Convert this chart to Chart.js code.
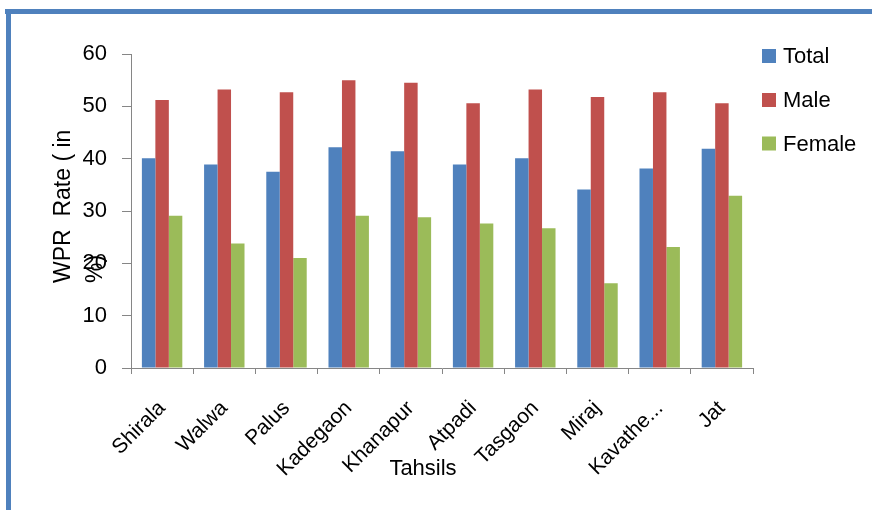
<!DOCTYPE html>
<html>
<head>
<meta charset="utf-8">
<script src="https://cdn.jsdelivr.net/npm/chart.js@4/dist/chart.umd.min.js"></script>
<style>
  html, body { margin: 0; padding: 0; background: #ffffff; }
  #wrap { position: relative; width: 872px; height: 510px; }
  canvas { display: block; }
</style>
</head>
<body>
<div id="wrap"><canvas id="wpr" width="872" height="510"></canvas></div>
<script>
// Work participation rate by tahsil (per cent)
const tahsils = ['Shirala', 'Walwa', 'Palus', 'Kadegaon', 'Khanapur', 'Atpadi', 'Tasgaon', 'Miraj', 'Kavathe...', 'Jat'];
const total  = [40.1, 38.9, 37.5, 42.2, 41.4, 38.9, 40.1, 34.1, 38.1, 41.9];
const male   = [51.2, 53.2, 52.7, 55.0, 54.5, 50.6, 53.2, 51.8, 52.7, 50.6];
const female = [29.1, 23.8, 21.0, 29.1, 28.8, 27.6, 26.7, 16.2, 23.1, 32.9];
const seriesNames = ['Total', 'Male', 'Female'];
const yTitleLines = ['WPR  Rate ( in', '%)'];
const xTitle = 'Tahsils';

const COLORS = ['#4f81bd', '#c0504d', '#9bbb59'];
const AXIS = '#868686';
const FONT = "'Liberation Sans', Arial, sans-serif";

// Frame, axis titles and the legend column are painted around the plot.
const decorations = {
  id: 'decorations',
  beforeDraw(chart) {
    const ctx = chart.ctx;
    ctx.save();
    ctx.fillStyle = '#4f81bd';
    ctx.fillRect(5, 9, 867, 5);
    ctx.fillRect(6, 9, 5, 501);
    ctx.restore();
  },
  afterDraw(chart) {
    const ctx = chart.ctx;
    ctx.save();
    ctx.fillStyle = '#000000';

    // y-axis title, two left-aligned lines reading bottom to top
    ctx.font = '23px ' + FONT;
    ctx.textBaseline = 'middle';
    ctx.textAlign = 'left';
    const yStart = 283;
    [64, 96].forEach((x, i) => {
      ctx.save();
      ctx.translate(x, yStart);
      ctx.rotate(-Math.PI / 2);
      ctx.fillText(yTitleLines[i], 0, 0);
      ctx.restore();
    });

    // x-axis title
    ctx.font = '22px ' + FONT;
    ctx.textAlign = 'center';
    ctx.fillText(xTitle, 423, 469);

    // legend
    const boxX = 762, textX = 783, rows = [56, 100, 143.5];
    ctx.font = '22px ' + FONT;
    ctx.textAlign = 'left';
    chart.data.datasets.forEach((ds, i) => {
      ctx.fillStyle = ds.backgroundColor;
      ctx.fillRect(boxX, rows[i] - 7, 14, 14);
      ctx.fillStyle = '#000000';
      ctx.fillText(ds.label, textX, rows[i] + 1);
    });
    ctx.restore();
  }
};

new Chart(document.getElementById('wpr'), {
  type: 'bar',
  data: {
    labels: tahsils,
    datasets: [
      { label: seriesNames[0], data: total,  backgroundColor: COLORS[0] },
      { label: seriesNames[1], data: male,   backgroundColor: COLORS[1] },
      { label: seriesNames[2], data: female, backgroundColor: COLORS[2] }
    ]
  },
  options: {
    responsive: false,
    animation: false,
    devicePixelRatio: 1,
    categoryPercentage: 0.65,
    barPercentage: 1.0,
    layout: { padding: { left: 0, top: 54, right: 119, bottom: 0 } },
    plugins: {
      legend: { display: false },
      tooltip: { enabled: false },
      title: { display: false }
    },
    scales: {
      x: {
        grid: { display: true, drawOnChartArea: false, drawTicks: true, tickLength: 6, color: AXIS, offset: true },
        border: { display: true, color: AXIS, width: 1 },
        ticks: {
          autoSkip: false, minRotation: 45, maxRotation: 45, padding: 22,
          color: '#000000', font: { family: FONT, size: 21 }
        },
        afterFit(scale) { scale.height = 142; }
      },
      y: {
        min: 0, max: 60,
        grid: { display: true, drawOnChartArea: false, drawTicks: true, tickLength: 9, color: AXIS },
        border: { display: true, color: AXIS, width: 1 },
        ticks: {
          stepSize: 10, padding: 15,
          color: '#000000', font: { family: FONT, size: 22 }
        },
        afterFit(scale) { scale.width = 131; }
      }
    }
  },
  plugins: [decorations]
});
</script>
</body>
</html>
